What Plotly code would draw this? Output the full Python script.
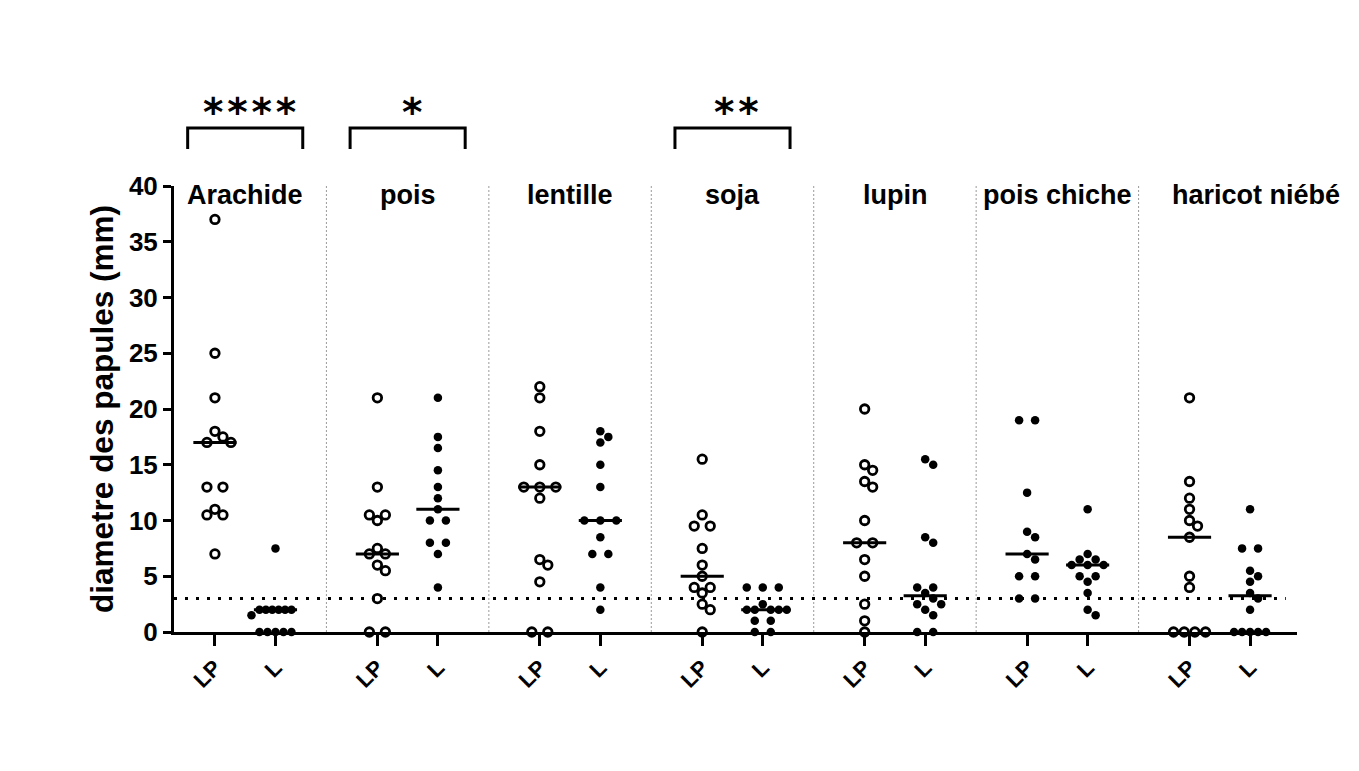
import numpy as np
import plotly.graph_objects as go

# ---------------- data ----------------
groups = ["Arachide", "pois", "lentille", "soja", "lupin", "pois chiche", "haricot niébé"]
conditions = ["LP", "L"]
significance = ["****", "*", "", "**", "", "", ""]
threshold = 3
y_ticks = [0, 5, 10, 15, 20, 25, 30, 35, 40]

arachide_lp = [37, 25, 21, 18, 17.5, 17, 17, 13, 13, 11, 10.5, 10.5, 7]
arachide_l = [7.5, 2, 2, 2, 2, 2, 2, 1.5, 0, 0, 0, 0, 0]
pois_lp = [21, 13, 10.5, 10.5, 10, 7.5, 7, 7, 6, 5.5, 3, 0, 0]
pois_l = [21, 17.5, 16.5, 14.5, 13, 12, 11, 10, 10, 8, 8, 7, 4]
lentille_lp = [22, 21, 18, 15, 13, 13, 13, 12, 6.5, 6, 4.5, 0, 0]
lentille_l = [18, 17.5, 17, 15, 13, 10, 10, 10, 8.5, 7, 7, 4, 2]
soja_lp = [15.5, 10.5, 9.5, 9.5, 7.5, 6, 5, 4, 4, 3.5, 2.5, 2, 0]
soja_l = [4, 4, 4, 2.5, 2, 2, 2, 2, 2, 1, 1, 0, 0]
lupin_lp = [20, 15, 14.5, 13.5, 13, 10, 8, 8, 6.5, 5, 2.5, 1, 0]
lupin_l = [15.5, 15, 8.5, 8, 4, 4, 3.5, 3, 2.5, 2.5, 2, 1.5, 0, 0]
pois_chiche_lp = [19, 19, 12.5, 9, 8.5, 7, 6.5, 5, 5, 3, 3]
pois_chiche_l = [11, 7, 6.5, 6.5, 6, 6, 6, 5, 5, 4.5, 3.5, 2, 1.5]
haricot_lp = [21, 13.5, 12, 11, 10, 9.5, 8.5, 5, 4, 0, 0, 0, 0]
haricot_l = [11, 7.5, 7.5, 5.5, 5, 4.5, 3.5, 3, 2, 0, 0, 0, 0, 0]

lp_values = [arachide_lp, pois_lp, lentille_lp, soja_lp, lupin_lp, pois_chiche_lp, haricot_lp]
l_values = [arachide_l, pois_l, lentille_l, soja_l, lupin_l, pois_chiche_l, haricot_l]
lp_open = [True, True, True, True, True, False, True]

# ---------------- geometry ----------------
W, H = 1359, 771
ML, MR, MT, MB = 166, 70, 178, 147
GROUP_STEP = 2.71
L_OFFSET = 1.01
x_range = [-0.683, GROUP_STEP * 6 + L_OFFSET + 0.783]
y_range = [0, 40]
ppx = (W - ML - MR) / (x_range[1] - x_range[0])
ppy = (H - MT - MB) / (y_range[1] - y_range[0])

FONT = "Liberation Sans, Arial, sans-serif"


def swarm(vals, step_px=16.0, diam_px=10.0, max_row_px=32.0):
    vals = np.asarray(vals, float)
    offs = np.zeros(len(vals))
    placed = []
    for v in sorted(set(vals.tolist()), reverse=True):
        idx = [i for i in range(len(vals)) if vals[i] == v]
        n = len(idx)
        step = step_px if n <= 1 else min(step_px, max_row_px / (n - 1))
        y = v * ppy
        row = []
        for k, i in enumerate(idx):
            b = (k - (n - 1) / 2) * step
            cands = sorted(set([b] + [h * step_px / 2 for h in range(-4, 5)]),
                           key=lambda c: (abs(c - b), abs(c)))
            chosen = b
            for c in cands:
                if all((c - px) ** 2 + (y - py) ** 2 >= (0.8 * diam_px) ** 2 for px, py in placed)\
                        and all(abs(c - rx) >= step * 0.9 for rx in row):
                    chosen = c
                    break
            row.append(chosen)
            offs[i] = chosen
        placed.extend((c, y) for c in row)
    return offs / ppx


fig = go.Figure()

tickvals, ticktext = [], []
for gi, g in enumerate(groups):
    base = gi * GROUP_STEP
    for ci, (cond, vals) in enumerate(zip(conditions, [lp_values[gi], l_values[gi]])):
        xc = base + ci * L_OFFSET
        tickvals.append(xc)
        ticktext.append(cond)
        xs = xc + swarm(vals)
        open_marker = (ci == 0 and lp_open[gi])
        fig.add_trace(go.Scatter(
            x=xs, y=vals, mode="markers", cliponaxis=False, showlegend=False,
            name=f"{g} {cond}",
            marker=dict(
                symbol="circle-open" if open_marker else "circle",
                size=8.5,
                color="black",
                line=dict(width=2.8 if open_marker else 0, color="black"),
            ),
        ))
        med = float(np.median(vals))
        fig.add_trace(go.Scatter(
            x=[xc - 0.36, xc + 0.36], y=[med, med], mode="lines",
            line=dict(color="black", width=3), showlegend=False, hoverinfo="skip",
        ))

shapes = []
# vertical separators
for gi in range(len(groups) - 1):
    xs = gi * GROUP_STEP + L_OFFSET + (GROUP_STEP - L_OFFSET) / 2
    shapes.append(dict(type="line", xref="x", yref="y", x0=xs, x1=xs, y0=0, y1=40,
                       line=dict(color="#9a9a9a", width=1, dash="2px,2px"), layer="below"))
# threshold line
shapes.append(dict(type="line", xref="paper", yref="y", x0=0, x1=0.99, y0=threshold, y1=threshold,
                   line=dict(color="black", width=3, dash="3px,8px"), layer="above"))

annotations = []
plot_h = H - MT - MB
OFF = 8  # page offset of the rendered figure


def py_to_paper(py):
    return (H - MB - (py - OFF)) / plot_h


for gi, g in enumerate(groups):
    center = gi * GROUP_STEP + L_OFFSET / 2
    annotations.append(dict(
        x=center, y=39.2, xref="x", yref="y", text=g, showarrow=False,
        xanchor="center", yanchor="middle", xshift=36 if gi == len(groups) - 1 else 0,
        font=dict(family=FONT, size=27, color="black", weight="bold"),
    ))
    sig = significance[gi]
    if sig:
        y_top = py_to_paper(128)
        y_bot = py_to_paper(149)
        x0, x1 = center - 0.96, center + 0.96
        shapes.append(dict(type="path", xref="x", yref="paper",
                           path=f"M {x0},{y_bot} L {x0},{y_top} L {x1},{y_top} L {x1},{y_bot}",
                           line=dict(color="black", width=3)))
        annotations.append(dict(
            x=center, y=py_to_paper(101), xref="x", yref="paper",
            text="\u200a".join(list(sig)), showarrow=False,
            xanchor="center", yanchor="middle", yshift=-11, xshift=4,
            font=dict(family="DejaVu Sans, sans-serif", size=39, color="black", weight="bold"),
        ))

fig.update_layout(
    width=W, height=H,
    margin=dict(l=ML, r=MR, t=MT, b=MB, pad=0),
    paper_bgcolor="white", plot_bgcolor="white",
    font=dict(family=FONT, color="black"),
    shapes=shapes, annotations=annotations,
    xaxis=dict(
        range=x_range, showgrid=False, zeroline=False,
        showline=True, linecolor="black", linewidth=3,
        tickmode="array", tickvals=tickvals, ticktext=ticktext,
        ticks="outside", ticklen=11, tickwidth=2.5, tickcolor="black",
        tickangle=-45, tickfont=dict(family=FONT, size=22, color="black", weight="bold"),
        layer="below traces",
    ),
    yaxis=dict(
        range=y_range, showgrid=False, zeroline=False,
        showline=True, linecolor="black", linewidth=3,
        tickmode="array", tickvals=y_ticks,
        ticks="outside", ticklen=8, tickwidth=2.5, tickcolor="black",
        tickfont=dict(family=FONT, size=26, color="black", weight="bold"),
        title=dict(text="diametre des papules (mm)", standoff=6,
                   font=dict(family=FONT, size=31.5, color="black", weight="bold")),
        layer="below traces",
    ),
)

fig.write_html("out.html")
